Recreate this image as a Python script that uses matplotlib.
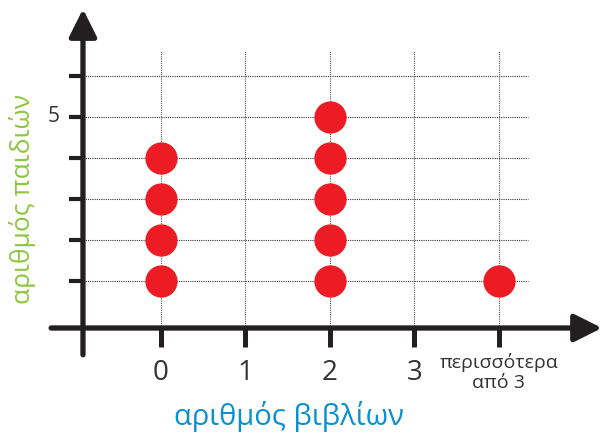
import matplotlib
matplotlib.use("Agg")
import matplotlib.pyplot as plt

# data
categories = ["0", "1", "2", "3", "περισσότερα\nαπό 3"]
counts = [4, 0, 5, 0, 1]
y_ticks = [1, 2, 3, 4, 5, 6]
y_tick_labels = ["", "", "", "", "5", ""]

AXIS = "#231f20"
RED = "#ed1c24"
GREEN = "#8dc63f"
BLUE = "#0a8fd1"

plt.rcParams["font.family"] = ["Open Sans", "DejaVu Sans"]

fig = plt.figure(figsize=(6.02, 4.34), dpi=100)
ax = fig.add_axes([0, 0, 1, 1])
ax.set_xlim(-1.905, 5.22)
ax.set_ylim(-2.73, 7.85)
ax.axis("off")

n = len(categories)
x0 = -0.923   # y-axis position
y0 = -0.146   # x-axis position
grid_right = 4.35

# grid
for y in y_ticks:
    ax.plot([x0, grid_right], [y, y], color="#333333", lw=0.8, ls=(0, (1, 1)), zorder=1)
for i in range(n):
    ax.plot([i, i], [y0, 6.6], color="#555555", lw=0.8, ls=(0, (1, 1)), zorder=1)

# dots
for i, c in enumerate(counts):
    for k in range(1, c + 1):
        ax.scatter(i, k, s=540, color=RED, zorder=3, linewidths=0)

# axes with arrows
ax.annotate("", xy=(5.22, y0), xytext=(-1.3, y0),
            arrowprops=dict(arrowstyle="-|>", lw=3.8, color=AXIS,
                            mutation_scale=42, shrinkA=0, shrinkB=0), zorder=4)
ax.annotate("", xy=(x0, 7.63), xytext=(x0, -0.8),
            arrowprops=dict(arrowstyle="-|>", lw=3.8, color=AXIS,
                            mutation_scale=42, shrinkA=0, shrinkB=0), zorder=4)

# ticks
for i in range(n):
    ax.plot([i, i], [y0, -0.6], color=AXIS, lw=3.6, solid_capstyle="butt", zorder=4)
for y in y_ticks:
    ax.plot([x0 - 0.17, x0], [y, y], color=AXIS, lw=3.0, solid_capstyle="butt", zorder=4)

# tick labels
for i, lab in enumerate(categories):
    if "\n" in lab:
        ax.text(i, -0.75, lab, ha="center", va="top", fontsize=14,
                color="#333333", linespacing=1.15)
    else:
        ax.text(i, -1.25, lab, ha="center", va="center", fontsize=20, color="#333333")
for y, lab in zip(y_ticks, y_tick_labels):
    if lab:
        ax.text(x0 - 0.28, y, lab, ha="right", va="center", fontsize=15, color="#333333")

# axis titles
ax.text(1.52, -2.3, "αριθμός βιβλίων", ha="center", va="center",
        fontsize=21, color=BLUE)
ax.text(-1.64, 3.0, "αριθμός παιδιών", ha="center", va="center",
        fontsize=19, color=GREEN, rotation=90)

fig.savefig("out.png", dpi=100)
